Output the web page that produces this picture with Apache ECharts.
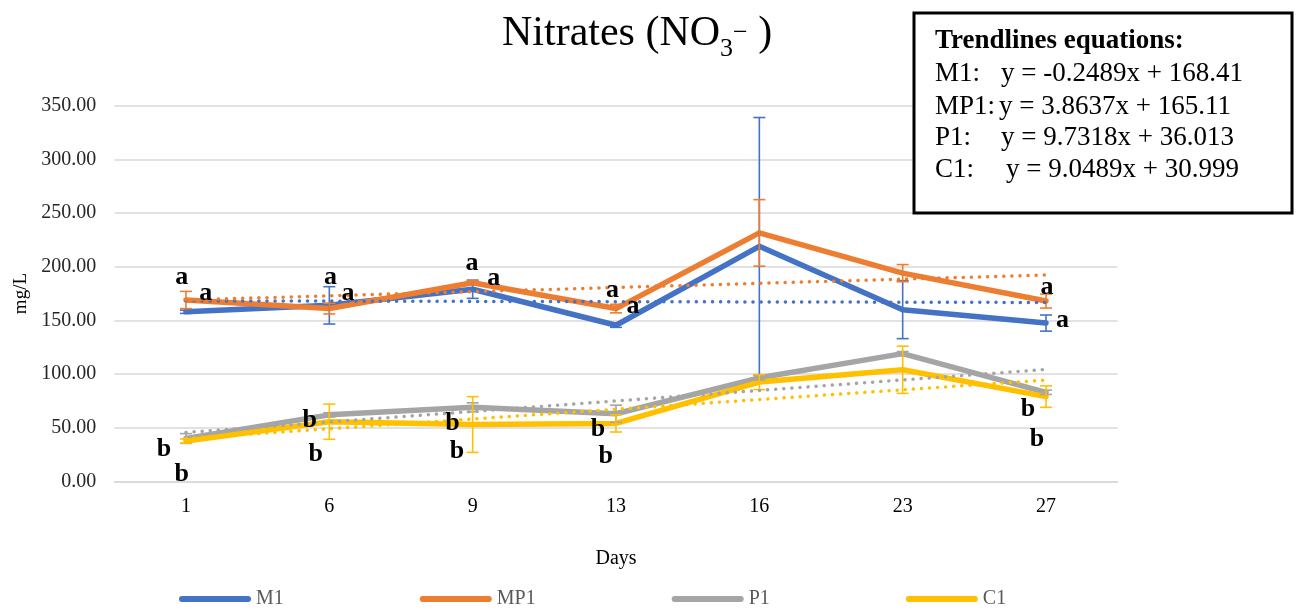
<!DOCTYPE html>
<html><head><meta charset="utf-8">
<script src="https://cdn.jsdelivr.net/npm/echarts@6/dist/echarts.min.js"></script>
<style>html,body{margin:0;padding:0;background:#fff}#c{width:1299px;height:610px}</style>
</head><body><div id="c"></div>
<script>
// ---- data ----
const days = ['1', '6', '9', '13', '16', '23', '27'];
const yTicks = [0, 50, 100, 150, 200, 250, 300, 350];
const m1 = [158, 164, 179, 145.5, 219, 160, 147.5];
const m1Err = [1.5, 17.4, 8.5, 2, 120, 27, 7.5];
const mp1 = [169, 161, 185, 161, 231.5, 194, 168];
const mp1Err = [8, 5, 2, 4, 31, 8, 6.5];
const p1 = [40, 62, 69, 63, 96.5, 119, 83];
const p1Err = [4.5, 2, 4.2, 8, 2, 2, 2];
const c1 = [37.5, 55.6, 53, 54, 92.5, 104, 79];
const c1Err = [2, 16.4, 26, 8, 7, 22, 10];
// linear trendlines (start / end)
const trendM1 = [168.2, null, null, null, null, null, 166.7];
const trendMP1 = [169, null, null, null, null, null, 192.3];
const trendP1 = [45.6, null, null, null, null, null, 104.3];
const trendC1 = [40, null, null, null, null, null, 94.4];
// significance letters (value at letter baseline)
const letterIdx = [0, 1, 2, 3, 6];
const letterATop = [183.6, 183.6, 197, 171.5, 174.6];
const letterASide = [168.3, 168.3, 183, 156.6, 143.6];
const letterBUpper = [23, 50.4, 47.2, 42.3, 61];
const letterBLower = [0.4, 18.4, 21.5, 16.9, 32.3];
const eqNames = ['M1:', 'MP1:', 'P1:', 'C1:'];
const eqTexts = ['y = -0.2489x + 168.41', 'y = 3.8637x + 165.11', 'y = 9.7318x + 36.013', 'y = 9.0489x + 30.999'];

// ---- styles / positions ----
const colors = {M1: '#4472C4', MP1: '#ED7D31', P1: '#A5A5A5', C1: '#FFC000'};
const FONT = '"Liberation Serif", "Times New Roman", serif';
const offATop = [-4.3, 1.1, -0.6, -3.6, 1];
const offASide = [19.7, 18.7, 21, 17, 16.4];
const offBUpper = [-22, -19.6, -20.2, -18, -18];
const offBLower = [-4.3, -13.6, -15.6, -10.3, -9];
const eqX = [1001, 999, 1001, 1006];
const eqY = [73.5, 106.9, 137.9, 170.2];

const chart = echarts.init(document.getElementById('c'), null, {renderer: 'canvas'});

function lineSeries(name, data) {
  return {name, type: 'line', data, showSymbol: false, symbol: 'none', z: 2,
    lineStyle: {color: colors[name], width: 5.5, cap: 'round', join: 'round'},
    itemStyle: {color: colors[name]}};
}
function trendSeries(name, data) {
  return {name: name + ' trend', type: 'line', data, connectNulls: true, showSymbol: false, symbol: 'none', z: 4,
    lineStyle: {color: colors[name], width: 3.5, type: [0.1, 8], cap: 'round'}};
}
function errSeries(name, vals, errs) {
  return {name: name + ' err', type: 'custom', z: 3,
    data: vals.map((v, i) => [i, v, errs[i]]),
    renderItem: function (params, api) {
      const i = api.value(0), v = api.value(1), e = api.value(2);
      const hi = api.coord([i, v + e]);
      const lo = api.coord([i, v - e]);
      const w = 6;
      const st = {stroke: colors[name], lineWidth: 1.6};
      return {type: 'group', children: [
        {type: 'line', shape: {x1: hi[0], y1: hi[1], x2: lo[0], y2: lo[1]}, style: st},
        {type: 'line', shape: {x1: hi[0] - w, y1: hi[1], x2: hi[0] + w, y2: hi[1]}, style: st},
        {type: 'line', shape: {x1: lo[0] - w, y1: lo[1], x2: lo[0] + w, y2: lo[1]}, style: st}
      ]};
    }};
}
function letterSeries(letter, vals, offs) {
  return {type: 'custom', z: 10, silent: true,
    data: letterIdx.map((d, k) => [d, vals[k], k]),
    renderItem: function (params, api) {
      const p = api.coord([api.value(0), api.value(1)]);
      const k = api.value(2);
      return {type: 'text', x: p[0] + offs[k], y: p[1] + 6,
        style: {text: letter, font: 'bold 26px ' + FONT, fill: '#000', align: 'center', verticalAlign: 'bottom'}};
    }};
}

const legendIcon = 'path://M3,0 H69 A3,3 0 0 1 69,6 H3 A3,3 0 0 1 3,0 Z';

const graphics = [
  {type: 'rect', shape: {x: 914, y: 13, width: 378, height: 200}, style: {fill: '#fff', stroke: '#000', lineWidth: 3}, z: 100},
  {type: 'text', x: 935, y: 41.5, z: 101, style: {text: 'Trendlines equations:', font: 'bold 27px ' + FONT, fill: '#000', verticalAlign: 'middle'}}
];
eqNames.forEach((n, k) => {
  graphics.push({type: 'text', x: 935, y: eqY[k], z: 101, style: {text: n, font: '27px ' + FONT, fill: '#000', verticalAlign: 'middle'}});
  graphics.push({type: 'text', x: eqX[k], y: eqY[k], z: 101, style: {text: eqTexts[k], font: '27px ' + FONT, fill: '#000', verticalAlign: 'middle'}});
});

const option = {
  animation: false,
  backgroundColor: '#fff',
  title: {
    left: 502, top: 6, padding: 0,
    text: '{m|Nitrates (NO}{sub|3}{sup|\u2212}{m| )}',
    textStyle: {fontWeight: 'normal', rich: {
      m: {fontFamily: FONT, fontSize: 42, fontWeight: 'normal', lineHeight: 56, color: '#000'},
      sub: {fontFamily: FONT, fontSize: 26, fontWeight: 'normal', lineHeight: 16, verticalAlign: 'bottom', color: '#000'},
      sup: {fontFamily: FONT, fontSize: 26, fontWeight: 'normal', verticalAlign: 'top', padding: [14, 0, 0, 0], color: '#000'}
    }}
  },
  grid: {left: 114.3, right: 181.3, top: 105.7, bottom: 128.6, containLabel: false},
  legend: {
    left: 179, top: 589, padding: 0, itemGap: 136, itemWidth: 72, itemHeight: 6,
    data: ['M1', 'MP1', 'P1', 'C1'].map(n => ({name: n, icon: legendIcon})),
    textStyle: {fontFamily: FONT, fontSize: 20, color: '#595959'}
  },
  xAxis: {
    type: 'category', data: days, boundaryGap: true,
    name: 'Days', nameLocation: 'middle', nameGap: 67.6,
    nameTextStyle: {fontFamily: FONT, fontSize: 20, color: '#000'},
    axisLine: {lineStyle: {color: '#D9D9D9', width: 1.5}},
    axisTick: {show: false},
    axisLabel: {fontFamily: FONT, fontSize: 20, color: '#000', margin: 15}
  },
  yAxis: {
    type: 'value', min: yTicks[0], max: yTicks[yTicks.length - 1], interval: 50,
    name: 'mg/L', nameLocation: 'middle', nameGap: 73, nameRotate: 90,
    nameTextStyle: {fontFamily: FONT, fontSize: 19, color: '#000'},
    axisLine: {show: false}, axisTick: {show: false},
    splitLine: {lineStyle: {color: '#D9D9D9', width: 1.5}},
    axisLabel: {fontFamily: FONT, fontSize: 20, color: '#262626', margin: 18, formatter: v => v.toFixed(2)}
  },
  graphic: graphics,
  series: [
    lineSeries('M1', m1), lineSeries('MP1', mp1), lineSeries('P1', p1), lineSeries('C1', c1),
    errSeries('M1', m1, m1Err), errSeries('MP1', mp1, mp1Err), errSeries('P1', p1, p1Err), errSeries('C1', c1, c1Err),
    trendSeries('M1', trendM1), trendSeries('MP1', trendMP1), trendSeries('P1', trendP1), trendSeries('C1', trendC1),
    letterSeries('a', letterATop, offATop), letterSeries('a', letterASide, offASide),
    letterSeries('b', letterBUpper, offBUpper), letterSeries('b', letterBLower, offBLower)
  ]
};
chart.setOption(option);
</script>
</body></html>
